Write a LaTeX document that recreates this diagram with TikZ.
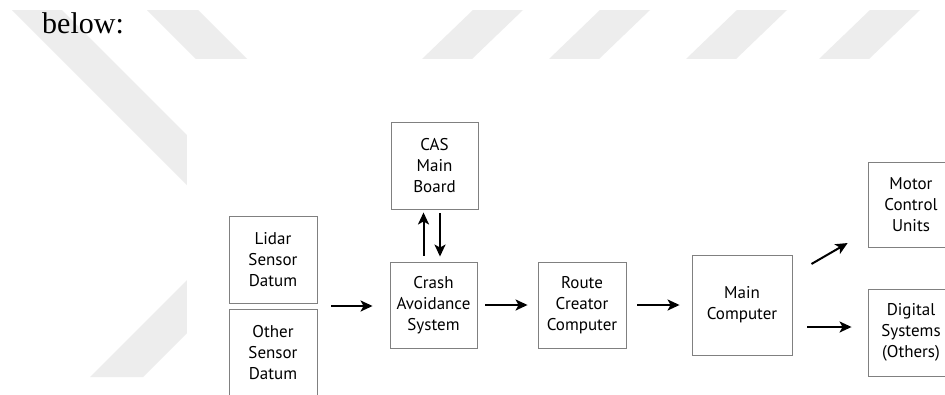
\documentclass[tikz,border=0pt]{standalone}
\usepackage{fontspec}
\setmainfont{PT Sans}
\newfontfamily\bodyserif{Liberation Serif}
\usetikzlibrary{arrows.meta}
\definecolor{markgray}{HTML}{EDEDED}
\definecolor{framegray}{HTML}{808080}
\tikzset{
  blockbox/.style={draw=framegray, line width=0.9pt, inner sep=0pt, align=center,
    font=\fontsize{17}{21}\selectfont, minimum width=87pt, minimum height=87pt},
  flow/.style={line width=2pt, -{Stealth[length=12pt,width=11pt,inset=3pt]}},
  band/.style={fill=markgray, draw=none}
}
\begin{document}
\begin{tikzpicture}[x=1pt,y=-1pt]
\useasboundingbox (0,0) rectangle (945,394);
\clip (0,0) rectangle (945,394);
\fill[white] (0,0) rectangle (945,394);
% light diagonal bands behind the page
\fill[band] (12,10) -- (62,10) -- (362,310) -- (312,310) -- cycle;
\fill[band] (147,10) -- (198,10) -- (247,59) -- (196,59) -- cycle;
\foreach \t in {473,600,737,870}
  \fill[band] (\t,10) -- (\t+50,10) -- (\t-1,59) -- (\t-51,59) -- cycle;
\fill[band] (90,377) -- (143,377) -- (243,277) -- (190,277) -- cycle;
\fill[white] (187,59) rectangle (945,394);

% lead-in text
\node[anchor=base west, inner sep=0, font=\bodyserif\fontsize{30}{36}\selectfont] (lead) at (42,33) {below:};

% blocks
\node[blockbox, minimum width=88pt] (lidar) at (273,259.5) {Lidar\\Sensor\\Datum};
\node[blockbox, minimum width=88pt] (other) at (273,352.5) {Other\\Sensor\\Datum};
\node[blockbox] (board) at (434.5,165.5) {CAS\\Main\\Board};
\node[blockbox, minimum height=86pt] (crash) at (433.5,305) {Crash\\Avoidance\\System};
\node[blockbox, minimum width=88pt, minimum height=86pt] (route) at (582,305) {Route\\Creator\\Computer};
\node[blockbox, minimum width=100pt, minimum height=100pt] (main) at (742,305) {Main\\Computer};
\node[blockbox, minimum width=86pt, minimum height=85pt] (motor) at (911,204.5) {Motor\\Control\\Units};
\node[blockbox, minimum width=86pt] (digital) at (911,332.5) {Digital\\Systems\\(Others)};

% connectors
\path (lidar.south east) -- (other.north east) coordinate[pos=0.5] (sens);
\draw[flow, shorten <=14pt, shorten >=17pt] (sens) -- (sens -| crash.west);
\draw[flow, shorten <=8pt, shorten >=10pt] (crash) -- (route);
\draw[flow, shorten <=11pt, shorten >=12pt] (route) -- (main);
\coordinate (outlow) at ([yshift=-22pt]main.east);
\draw[flow, shorten <=15pt, shorten >=16pt] (outlow) -- (outlow -| digital.west);
\draw[flow, shorten <=22pt, shorten >=23pt] ([yshift=30pt]main.east) -- ([yshift=-27pt]motor.west);
\coordinate (upfoot) at ([xshift=-10pt]crash.north);
\coordinate (downfoot) at ([xshift=6.5pt]crash.north);
\draw[flow, shorten <=6pt, shorten >=3pt] (upfoot) -- (upfoot |- board.south);
\draw[flow, shorten <=4pt, shorten >=5pt] (downfoot |- board.south) -- (downfoot);
\end{tikzpicture}
\end{document}
